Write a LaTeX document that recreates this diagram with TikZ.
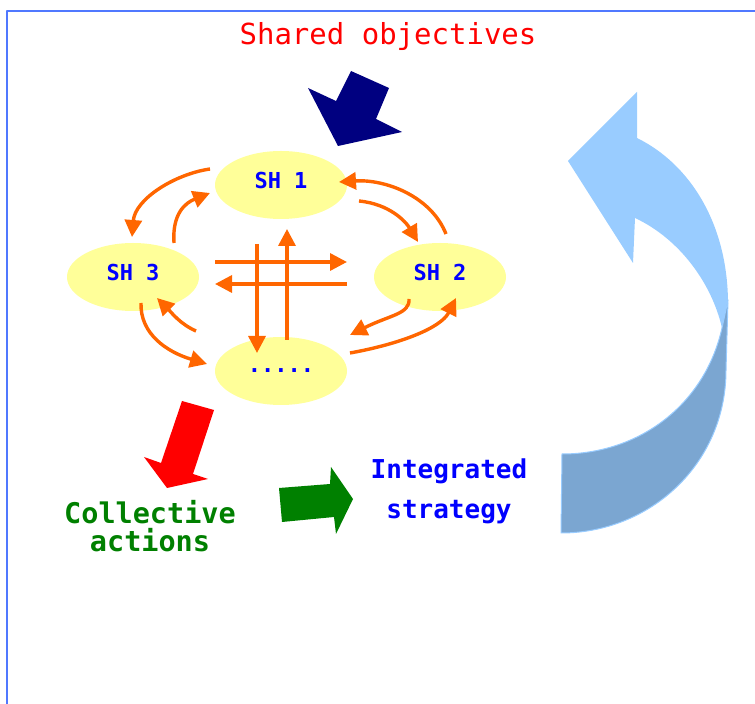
\documentclass[tikz,border=0pt]{standalone}
\usepackage{fontspec}
\newfontfamily\monofont{DejaVu Sans Mono}
\usetikzlibrary{arrows.meta,calc,shapes.geometric}

\definecolor{framecol}{HTML}{5078FF}
\definecolor{flowcol}{HTML}{FF6600}
\definecolor{partycol}{HTML}{FFFF99}
\definecolor{textblue}{HTML}{0000FF}
\definecolor{actgreen}{HTML}{008000}
\definecolor{goalnavy}{HTML}{000080}
\definecolor{ribbonlight}{HTML}{99CCFF}
\definecolor{ribbondark}{HTML}{7BA6D1}

\newcommand\monosize[1]{\monofont\fontsize{#1}{#1}\selectfont}

\tikzset{
  party/.style={ellipse, fill=partycol, minimum width=132pt, minimum height=68pt,
    inner sep=0pt, text=textblue, font=\monosize{22}\bfseries},
  flow/.style={draw=flowcol, line width=3.4pt, -{Triangle[length=17pt,width=17pt]}},
}

\begin{document}
\begin{tikzpicture}[x=1pt, y=1pt, line join=round]
    \useasboundingbox (0,0) rectangle (755,704);
    % frame
    \draw[framecol, line width=2.2pt] (7,0) -- (7,693) -- (755,693);

    \node[anchor=base, text=red, font=\monosize{29}] (goal) at (388,659) {Shared objectives};

    % stakeholders
    \node[party, text depth=10pt] (sh1) at (281,519) {SH 1};
    \node[party, text depth=10pt] (sh3) at (133,427) {SH 3};
    \node[party, text depth=10pt] (sh2) at (440,427) {SH 2};
    \node[party] (more) at (281,333) {.....};

    % exchanges around the ring
    \draw[flow] ($(sh1)+(-71,16)$) .. controls +(-35,-5) and +(3,38) .. ($(sh3)+(-1,40)$);
    \draw[flow] ($(sh3)+(41,34)$) .. controls +(-2,29) and +(-25,-10) .. ($(sh1)+(-71,-8)$);
    \draw[flow] ($(sh1)+(78,-16)$) .. controls +(31,-3) and +(-12,20) .. ($(sh2)+(-22,35)$);
    \draw[flow] ($(sh2)+(6,43)$) .. controls +(-15,38) and +(46,3) .. ($(sh1)+(58,3)$);
    \draw[flow] ($(sh3)+(8,-26)$) .. controls +(-1,-31) and +(-40,12) .. ($(more)+(-74,7)$);
    \draw[flow] ($(more)+(-85,40)$) .. controls +(-16,7) and +(14,-14) .. ($(sh3)+(24,-21)$);
    \draw[flow] ($(sh2)+(-31,-22)$) .. controls +(1,-15) and +(40,20) .. ($(more)+(69,36)$);
    \draw[flow] ($(more)+(69,18)$) .. controls +(50,9) and +(-15,-30) .. ($(sh2)+(16,-21)$);

    % crossing in the middle
    \draw[flow] ($(more)+(-66,109)$) -- ($(more)+(66,109)$);
    \draw[flow] ($(more)+(66,87)$) -- ($(more)+(-66,87)$);
    \draw[flow] ($(more)+(-24,127)$) -- ($(more)+(-24,18)$);
    \draw[flow] ($(more)+(6,31)$) -- ($(more)+(6,142)$);

    % block arrows
    \fill[goalnavy] (351,633) -- (389,616) -- (376,585) -- (402,572) -- (338,558)
        -- (308,616) -- (336,603) -- cycle;
    \fill[red] (182,303) -- (214,294) -- (193,230) -- (208,225) -- (167,216)
        -- (144,247) -- (161,241) -- cycle;
    \fill[actgreen] (279,216) -- (330,220) -- (331,237) -- (353,205) -- (336,170)
        -- (334,187) -- (282,182) -- cycle;

    \node[text=actgreen, font=\monofont\bfseries\fontsize{28.5}{28}\selectfont, align=center]
        (act) at (150,178) {Collective\\actions};
    \node[text=textblue, font=\monofont\bfseries\fontsize{26}{40}\selectfont, align=center]
        (strat) at (449,213) {Integrated\\strategy};

    % curved return arrow
    \fill[ribbonlight] (637,566) .. controls (690,540) and (728,480) .. (728,400)
        -- (727,376) -- (722,376) .. controls (712,420) and (680,465) .. (635,486)
        -- (633,441) -- (568,543) -- (637,612) -- cycle;
    \filldraw[fill=ribbondark, draw=ribbonlight, line width=1pt]
        (728,404) -- (726,334) .. controls (726,240) and (650,171) .. (561,171)
        -- (562,250) .. controls (640,250) and (705,300) .. (722,376) -- cycle;
\end{tikzpicture}
\end{document}
